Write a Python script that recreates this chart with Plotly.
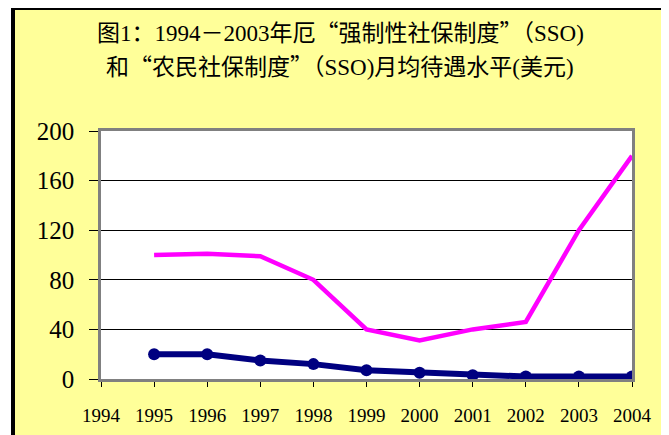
import plotly.graph_objects as go

years = [1995, 1996, 1997, 1998, 1999, 2000, 2001, 2002, 2003, 2004]
compulsory_sso = [100, 101, 99, 80, 40, 31, 40, 46, 120, 180]
peasant_sso = [20, 20, 15, 12, 7, 5, 3, 2, 2, 2]
x_ticks = [1994, 1995, 1996, 1997, 1998, 1999, 2000, 2001, 2002, 2003, 2004]
y_ticks = [0, 40, 80, 120, 160, 200]

Q = '<span style="font-family:Noto Sans CJK SC">{}</span>'
title_line1 = "图1：1994－2003年厄" + Q.format("“") + "强制性社保制度" + Q.format("”") + "（SSO)"
title_line2 = "和" + Q.format("“") + "农民社保制度" + Q.format("”") + "（SSO)月均待遇水平(美元)"

OFF = 8  # page body margin
W, H = 669 - OFF, 435 - OFF
L, R, T, B = 101 - OFF, 632 - OFF, 131 - OFF, 379 - OFF
pw, ph = R - L, B - T

def px(x):
    return (x - OFF - L) / pw

def py(y):
    return (B - (y - OFF)) / ph

fig = go.Figure()
fig.add_trace(go.Scatter(x=years, y=compulsory_sso, mode="lines",
                         line=dict(color="#FF00FF", width=4.5),
                         showlegend=False, hoverinfo="skip"))
fig.add_trace(go.Scatter(x=years, y=peasant_sso, mode="lines+markers",
                         line=dict(color="#000080", width=6),
                         marker=dict(color="#000080", size=12),
                         showlegend=False, hoverinfo="skip"))

serif = "Liberation Serif, Times New Roman, serif"
cjk = "Liberation Serif, Noto Sans CJK SC, serif"

fig.update_layout(
    width=W, height=H,
    margin=dict(l=L, r=W - R, t=T, b=H - B, pad=0, autoexpand=False),
    paper_bgcolor="#FFFF99",
    plot_bgcolor="#FFFFFF",
    xaxis=dict(range=[1994, 2004], tickvals=x_ticks, ticktext=[str(v) for v in x_ticks],
               automargin=False,
               showgrid=False, zeroline=False, showline=True, mirror=True,
               linecolor="#808080", linewidth=2.5,
               ticks="outside", ticklen=5, tickcolor="#000000", tickwidth=1,
               tickfont=dict(family=serif, size=19, color="#000000"),
               ticklabelstandoff=12),
    yaxis=dict(range=[0, 200], tickvals=y_ticks, automargin=False,
               showgrid=True, gridcolor="#000000", gridwidth=1, zeroline=False,
               showline=True, mirror=True, linecolor="#808080", linewidth=2.5,
               ticks="outside", ticklen=9, tickcolor="#000000", tickwidth=1,
               tickfont=dict(family=serif, size=25, color="#000000"),
               ticklabelstandoff=10),
    annotations=[
        dict(text=title_line1, x=px(340), y=py(31), xref="paper", yref="paper",
             xanchor="center", yanchor="middle", showarrow=False,
             font=dict(family=cjk, size=23, color="#000000")),
        dict(text=title_line2, x=px(340), y=py(65), xref="paper", yref="paper",
             xanchor="center", yanchor="middle", showarrow=False,
             font=dict(family=cjk, size=23, color="#000000")),
    ],
    shapes=[
        dict(type="rect", xref="paper", yref="paper", x0=px(-20), x1=px(11), y0=py(-20), y1=py(H + 40),
             fillcolor="#FFFFFF", line=dict(width=0), layer="above"),
        dict(type="rect", xref="paper", yref="paper", x0=px(13), x1=px(W + 40), y0=py(8), y1=py(H + 40),
             fillcolor="rgba(0,0,0,0)", line=dict(color="#000000", width=4), layer="above"),
    ],
)

fig.write_html("out.html")
